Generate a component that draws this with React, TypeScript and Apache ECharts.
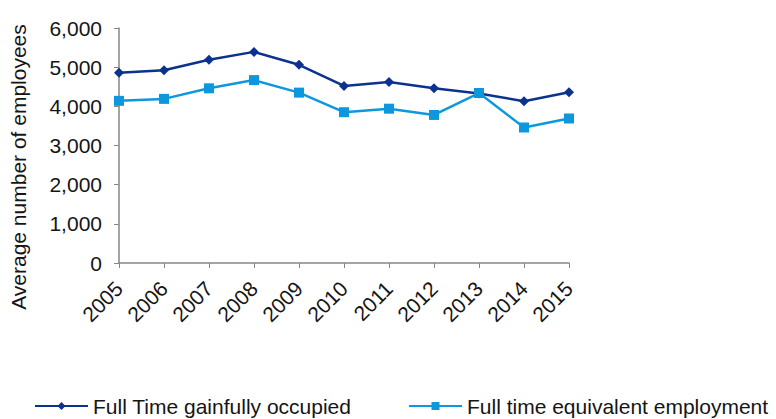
import React, { useEffect, useRef } from "react";
import * as echarts from "echarts";

const years = ["2005", "2006", "2007", "2008", "2009", "2010", "2011", "2012", "2013", "2014", "2015"];
const fullTimeOccupied = [4860, 4920, 5190, 5390, 5060, 4520, 4620, 4460, 4330, 4130, 4360];
const fullTimeEquivalent = [4140, 4190, 4460, 4670, 4350, 3850, 3940, 3780, 4340, 3460, 3690];
const seriesNames = ["Full Time gainfully occupied", "Full time equivalent employment"];
const yAxisTitle = "Average number of employees";

const FONT = "Liberation Sans, Arial, sans-serif";
const FS = 21;
const DARK = "#0c3290";
const LIGHT = "#0d98de";
const TEXT = "#151515";

export default function App() {
  const ref = useRef<HTMLDivElement>(null);
  useEffect(() => {
    if (!ref.current) return;
    const chart = echarts.init(ref.current, undefined, { renderer: "svg" });
    const legendBase = {
      top: 395,
      padding: 0,
      itemWidth: 53,
      itemHeight: 10,
      itemGap: 10,
      textStyle: { fontSize: FS, color: TEXT, fontFamily: FONT, lineHeight: 22 },
    };
    chart.setOption({
      animation: false,
      backgroundColor: "#ffffff",
      textStyle: { fontFamily: FONT },
      grid: { left: 119, right: 207, top: 28, bottom: 156, containLabel: false },
      xAxis: {
        type: "category",
        data: years,
        boundaryGap: false,
        axisLine: { lineStyle: { color: "#868686", width: 1.5 } },
        axisTick: { show: true, length: 5, lineStyle: { color: "#868686" } },
        axisLabel: { rotate: 45, fontSize: FS, color: TEXT, fontFamily: FONT, margin: 22 },
        splitLine: { show: false },
      },
      yAxis: {
        type: "value",
        min: 0,
        max: 6000,
        interval: 1000,
        axisLine: { show: true, lineStyle: { color: "#868686", width: 1.5 } },
        axisTick: { show: true, length: 5, lineStyle: { color: "#868686" } },
        axisLabel: {
          fontSize: FS,
          color: TEXT,
          fontFamily: FONT,
          margin: 17,
          formatter: (v: number) => v.toLocaleString("en-US"),
        },
        splitLine: { show: false },
      },
      legend: [
        { ...legendBase, left: 34, data: [seriesNames[0]] },
        { ...legendBase, left: 408, data: [seriesNames[1]] },
      ],
      graphic: [
        {
          type: "text",
          x: 18,
          y: 167,
          rotation: Math.PI / 2,
          style: {
            text: yAxisTitle,
            font: `${FS}px ${FONT}`,
            fill: TEXT,
            align: "center",
            verticalAlign: "middle",
          },
        },
      ],
      series: [
        {
          name: seriesNames[0],
          type: "line",
          data: fullTimeOccupied,
          symbol: "diamond",
          symbolSize: 10,
          lineStyle: { color: DARK, width: 2.5 },
          itemStyle: { color: DARK },
        },
        {
          name: seriesNames[1],
          type: "line",
          data: fullTimeEquivalent,
          symbol: "rect",
          symbolSize: 10,
          lineStyle: { color: LIGHT, width: 2.5 },
          itemStyle: { color: LIGHT },
        },
      ],
    });
    return () => chart.dispose();
  }, []);
  return <div ref={ref} style={{ width: 776, height: 419, position: "absolute", left: 0, top: 0 }} />;
}
